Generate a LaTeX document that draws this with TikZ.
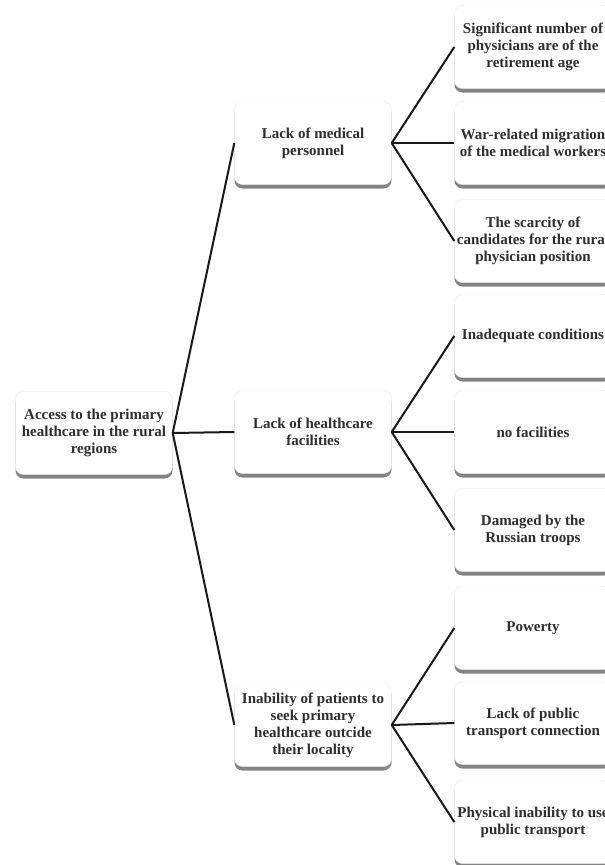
\documentclass[tikz,border=0pt]{standalone}
\usepackage{fontspec}
\setmainfont{Liberation Serif}
\usetikzlibrary{shadows}
\definecolor{txtc}{HTML}{2E2E2E}
\tikzset{
  box/.style={draw=black!8, fill=white, rounded corners=8pt, minimum width=157pt, minimum height=83pt,
    drop shadow={shadow xshift=0pt, shadow yshift=-4pt, fill=black!60, opacity=0.8}},
  txt/.style={align=center, text=txtc, font=\fontsize{15}{17}\selectfont\bfseries, inner sep=0pt},
  conn/.style={draw=black!90, line width=2pt}
}
\begin{document}
\begin{tikzpicture}[x=1pt,y=-1pt]
\useasboundingbox (0,0) rectangle (605,865);
\clip (0,0) rectangle (605,865);
\fill[white] (0,0) rectangle (605,865);
% root
\node[box] (root) at (94,433) {};
\node[txt] (roott) at (root) {Access to the primary\\healthcare in the rural\\regions};
% mid
\node[box] (m1) at (313,143) {};
\node[txt] (m1t) at (m1) {Lack of medical\\personnel};
\node[box] (m2) at (313,432) {};
\node[txt] (m2t) at (m2) {Lack of healthcare\\facilities};
\node[box] (m3) at (313,725) {};
\node[txt] (m3t) at (m3) {Inability of patients to\\seek primary\\healthcare outcide\\their locality};
% right
\node[box] (r1) at (533,47) {};
\node[txt] (r1t) at (r1) {Significant number of\\physicians are of the\\retirement age};
\node[box] (r2) at (533,143) {};
\node[txt] (r2t) at (r2) {War-related migration\\of the medical workers};
\node[box] (r3) at (533,241) {};
\node[txt] (r3t) at (r3) {The scarcity of\\candidates for the rural\\physician position};
\node[box] (r4) at (533,336) {};
\node[txt] (r4t) at (r4) {Inadequate conditions};
\node[box] (r5) at (533,432) {};
\node[txt] (r5t) at (r5) {no facilities};
\node[box] (r6) at (533,530) {};
\node[txt] (r6t) at (r6) {Damaged by the\\Russian troops};
\node[box] (r7) at (533,628) {};
\node[txt] (r7t) at (r7) {Powerty};
\node[box] (r8) at (533,723) {};
\node[txt] (r8t) at (r8) {Lack of public\\transport connection};
\node[box] (r9) at (533,822) {};
\node[txt] (r9t) at (r9) {Physical inability to use\\public transport};
% connectors
\foreach \m in {m1,m2,m3} \draw[conn] (root.east) -- (\m.west);
\foreach \r in {r1,r2,r3} \draw[conn] (m1.east) -- (\r.west);
\foreach \r in {r4,r5,r6} \draw[conn] (m2.east) -- (\r.west);
\foreach \r in {r7,r8,r9} \draw[conn] (m3.east) -- (\r.west);
\end{tikzpicture}
\end{document}
